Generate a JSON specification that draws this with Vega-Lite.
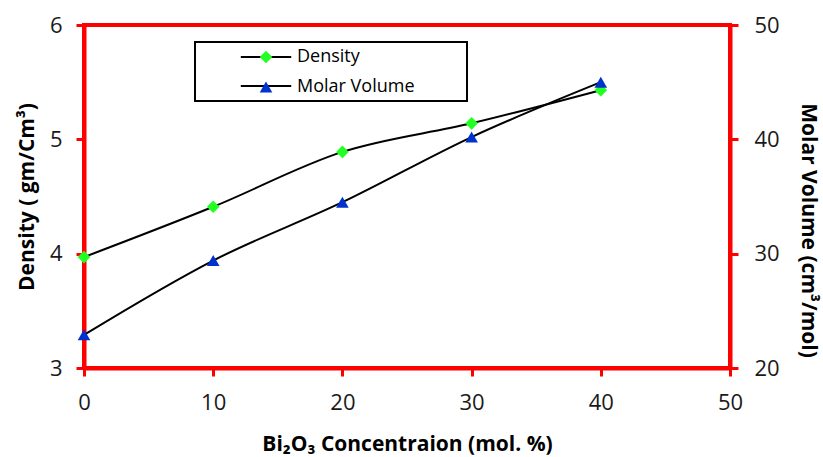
{
  "$schema": "https://vega.github.io/schema/vega-lite/v6.json",
  "width": 646,
  "height": 343,
  "autosize": "none",
  "padding": {"left": 84, "top": 25, "right": 93, "bottom": 89},
  "background": "white",
  "config": {
    "font": "Open Sans",
    "view": {"stroke": "#ff0000", "strokeWidth": 4},
    "axis": {
      "grid": false,
      "domainColor": "#ff0000",
      "domainWidth": 4,
      "tickColor": "#ff0000",
      "tickWidth": 3,
      "tickSize": 8,
      "labelFontSize": 22,
      "labelColor": "#1a1a1a",
      "labelFont": "Open Sans",
      "titleFont": "Open Sans",
      "titleFontSize": 21,
      "titleFontWeight": "bold",
      "titleColor": "#000000"
    }
  },
  "data": {
    "values": [
      {"x": 0, "series": "Density", "value": 3.97},
      {"x": 10, "series": "Density", "value": 4.41},
      {"x": 20, "series": "Density", "value": 4.89},
      {"x": 30, "series": "Density", "value": 5.14},
      {"x": 40, "series": "Density", "value": 5.43},
      {"x": 0, "series": "Molar Volume", "value": 22.9},
      {"x": 10, "series": "Molar Volume", "value": 29.4},
      {"x": 20, "series": "Molar Volume", "value": 34.5},
      {"x": 30, "series": "Molar Volume", "value": 40.2},
      {"x": 40, "series": "Molar Volume", "value": 45.0}
    ]
  },
  "encoding": {
    "x": {
      "field": "x",
      "type": "quantitative",
      "scale": {"domain": [0, 50]},
      "axis": {
        "title": "Bi₂O₃ Concentraion (mol. %)",
        "values": [0, 10, 20, 30, 40, 50],
        "labelPadding": 16,
        "titlePadding": 20,
        "labelFlush": false
      }
    }
  },
  "layer": [
    {
      "transform": [{"filter": "datum.series === 'Density'"}],
      "encoding": {
        "y": {
          "field": "value",
          "type": "quantitative",
          "scale": {"domain": [3, 6]},
          "axis": {
            "title": "Density ( gm/Cm³)",
            "values": [3, 4, 5, 6],
            "orient": "left",
            "labelPadding": 14,
            "titlePadding": 12
          }
        }
      },
      "layer": [
        {
          "mark": {"type": "line", "interpolate": "monotone", "strokeWidth": 2, "clip": false},
          "encoding": {
            "stroke": {
              "field": "series",
              "type": "nominal",
              "sort": "descending",
              "scale": {"range": ["#000000", "#000000"]},
              "legend": {
                "title": null,
                "orient": "none",
                "legendX": 111,
                "legendY": 17,
                "padding": 6,
                "symbolType": "M-4.2,0H4.2",
                "symbolSize": 144,
                "symbolStrokeWidth": 2,
                "symbolStrokeColor": "#000000",
                "symbolOffset": 56,
                "labelFontSize": 18,
                "labelOpacity": 0,
                "labelOffset": 68,
                "rowPadding": 11,
                "strokeColor": "#000000",
                "encode": {"legend": {"update": {"strokeWidth": {"value": 2}}}}
              }
            }
          }
        },
        {
          "mark": {"type": "point", "filled": true, "size": 160, "opacity": 1, "clip": false},
          "encoding": {
            "fill": {
              "field": "series",
              "type": "nominal",
              "scale": {"range": ["#22ff22", "#0033cc"]},
              "legend": {
                "title": null,
                "orient": "none",
                "legendX": 111,
                "legendY": 17,
                "padding": 6,
                "symbolSize": 160,
                "symbolOffset": 56,
                "labelOffset": 22,
                "labelFontSize": 18,
                "labelColor": "#000000",
                "rowPadding": 11
              }
            },
            "shape": {
              "field": "series",
              "type": "nominal",
              "scale": {"range": ["diamond", "triangle-up"]},
              "legend": {
                "title": null,
                "orient": "none",
                "legendX": 111,
                "legendY": 17,
                "padding": 6,
                "symbolSize": 160,
                "symbolOffset": 56,
                "labelOffset": 22,
                "labelFontSize": 18,
                "labelColor": "#000000",
                "rowPadding": 11
              }
            }
          }
        }
      ]
    },
    {
      "transform": [{"filter": "datum.series === 'Molar Volume'"}],
      "encoding": {
        "y": {
          "field": "value",
          "type": "quantitative",
          "scale": {"domain": [20, 50]},
          "axis": {
            "title": "Molar Volume (cm³/mol)",
            "values": [20, 30, 40, 50],
            "orient": "right",
            "labelPadding": 16,
            "titlePadding": 18,
            "titleY": 205
          }
        }
      },
      "layer": [
        {
          "mark": {"type": "line", "interpolate": "monotone", "strokeWidth": 2, "clip": false},
          "encoding": {
            "stroke": {"field": "series", "type": "nominal", "sort": "descending"}
          }
        },
        {
          "mark": {"type": "point", "filled": true, "size": 160, "opacity": 1, "clip": false},
          "encoding": {
            "fill": {"field": "series", "type": "nominal"},
            "shape": {"field": "series", "type": "nominal"}
          }
        }
      ]
    }
  ],
  "resolve": {"scale": {"y": "independent"}}
}
